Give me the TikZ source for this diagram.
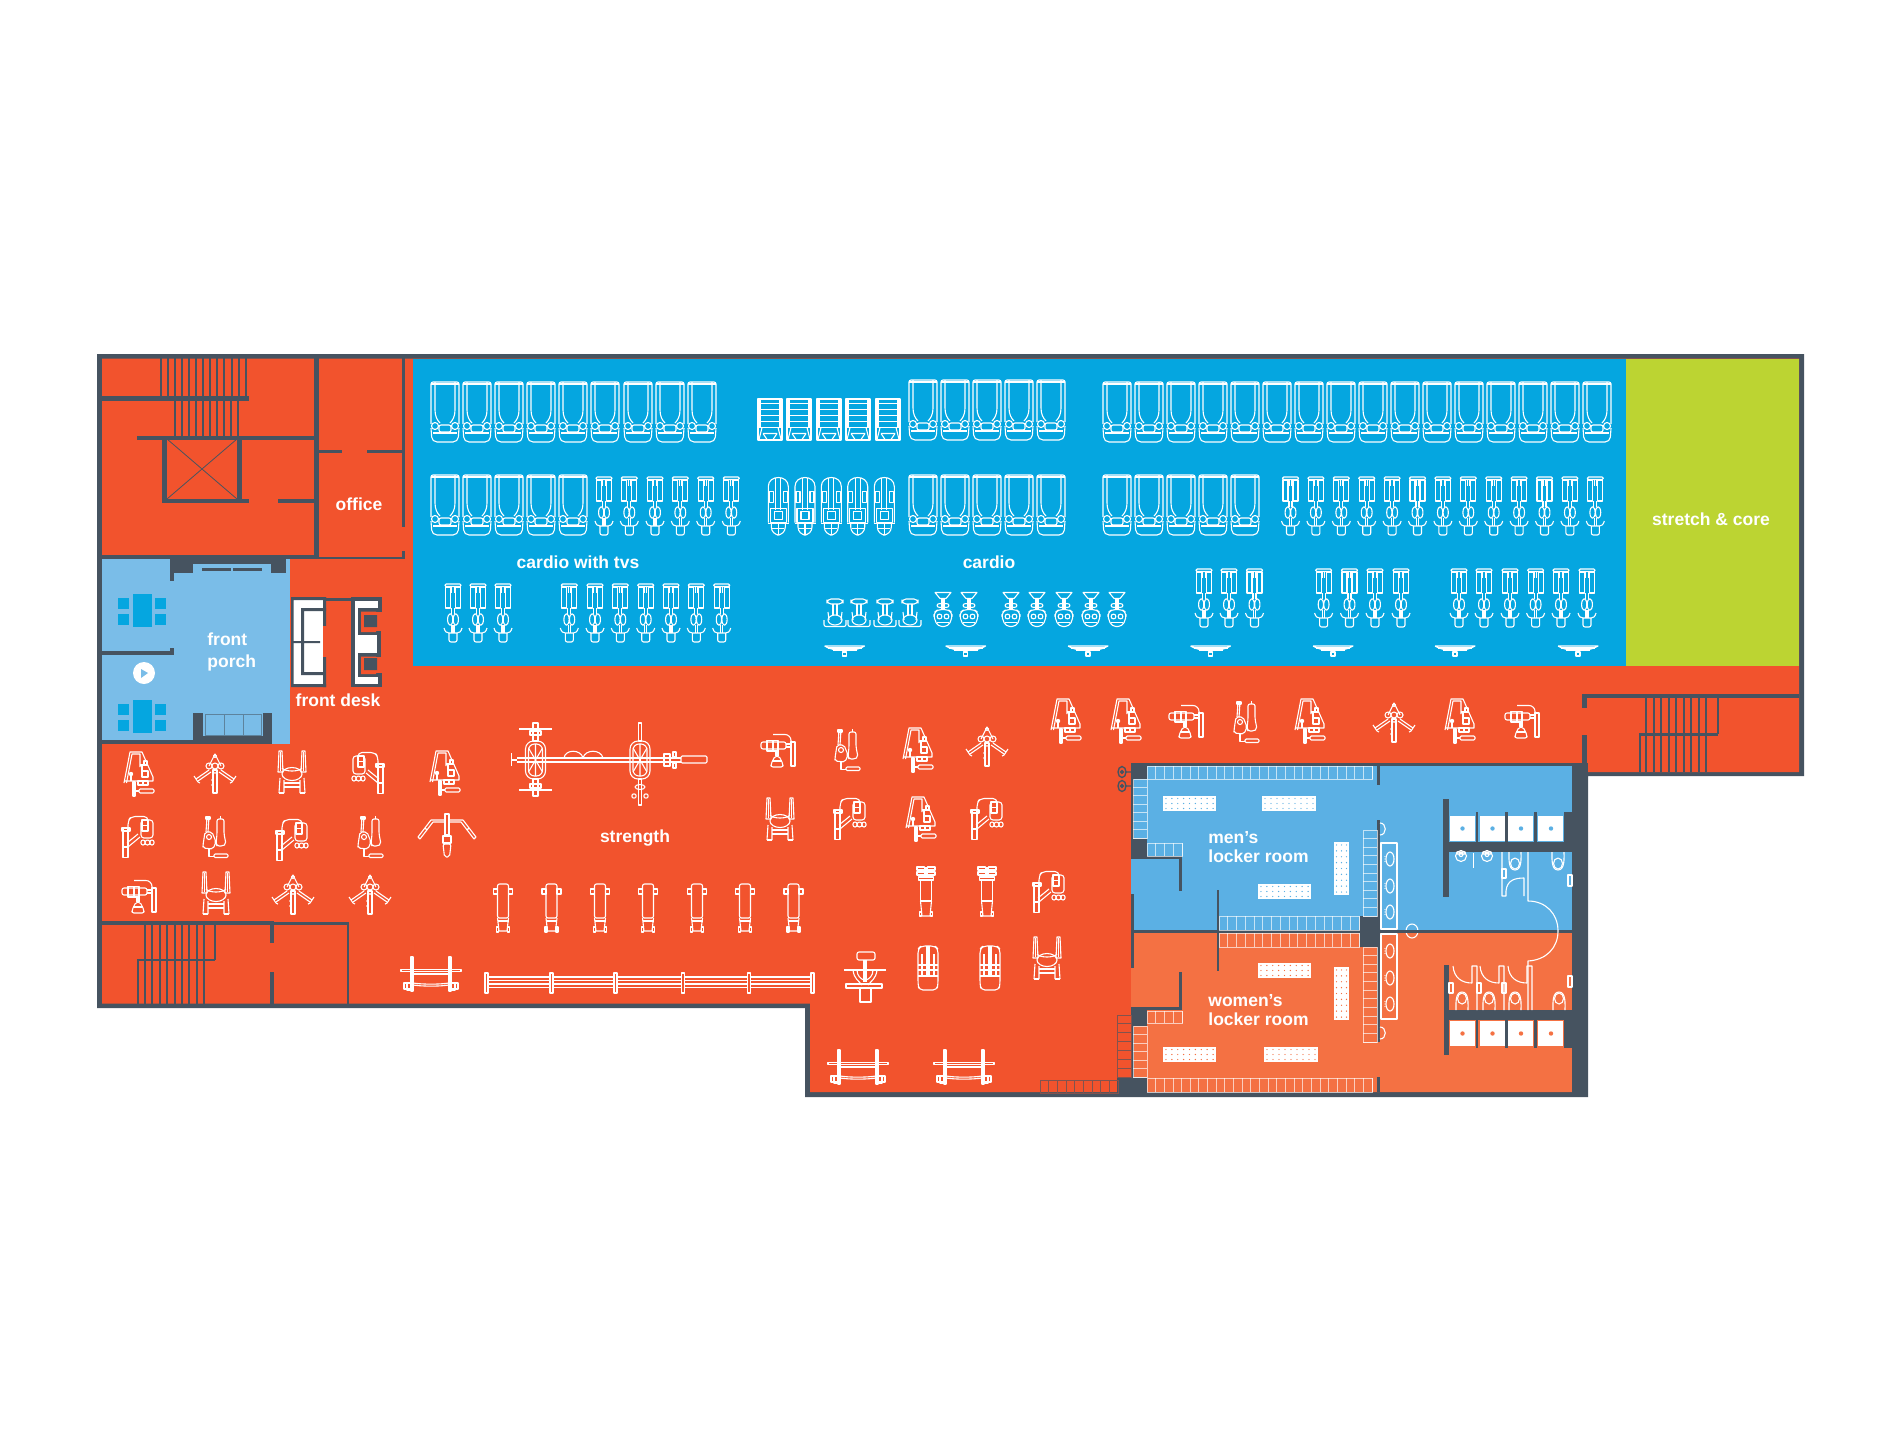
\documentclass[tikz,border=0pt]{standalone}
\usepackage{fontspec}
\setmainfont{Liberation Sans}
\usetikzlibrary{positioning}
\definecolor{gymred}{HTML}{F2532D}
\definecolor{cardioblue}{HTML}{05A6E0}
\definecolor{stretchgreen}{HTML}{BCD432}
\definecolor{wallgrey}{HTML}{465360}
\definecolor{porchblue}{HTML}{7ABDE8}
\definecolor{menblue}{HTML}{5BB0E4}
\definecolor{womenred}{HTML}{F47143}
\newcommand{\hlockers}[6][lockline]{%
  \draw[#1] (#2,#3) rectangle (#4,#5);
  \foreach \i in {1,...,#6}
    \draw[#1] ({#2+(#4-#2)*\i/#6},#3) -- ({#2+(#4-#2)*\i/#6},#5);
}
\newcommand{\vlockers}[6][lockline]{%
  \draw[#1] (#2,#3) rectangle (#4,#5);
  \foreach \i in {1,...,#6}
    \draw[#1] (#2,{#3+(#5-#3)*\i/#6}) -- (#4,{#3+(#5-#3)*\i/#6});
}
\newcommand{\dotbench}[7]{%
  \fill[white] (#1,#2) rectangle (#3,#4);
  \foreach \i in {1,...,#6}
    \foreach \j in {1,...,#7}
      \fill[#5] ({#1+(#3-#1)*(\i-.5)/#6},{#2+(#4-#2)*(\j-.5)/#7}) circle (.7);
}
\tikzset{
  gear/.style={draw=white,line width=.55pt,line join=round},
  tread/.style={draw=wallgrey,line width=1pt},
  lockline/.style={draw=white,line width=.45pt,draw opacity=.65},
  outline/.style={draw=wallgrey!65!gymred,line width=.45pt},
  roomlabel/.style={text=white,inner sep=0pt,font=\bfseries\fontsize{8.75}{11}\selectfont},
  lockerlabel/.style={roomlabel,align=left,font=\bfseries\fontsize{8.75}{9.5}\selectfont},
  treadmill/.pic={
    \draw[gear,rounded corners=1] (-14,12) -- (-14,-30) -- (14,-30) -- (14,12);
    \draw[gear] (-14,-28) -- (14,-28);
    \draw[gear] (-10,-30) -- (-10,-2) .. controls (-10,4) and (-8,8) .. (-5,11);
    \draw[gear] (10,-30) -- (10,-2) .. controls (10,4) and (8,8) .. (5,11);
    \draw[gear,rounded corners=2.5] (-14,16) -- (-13,30) -- (13,30) -- (14,16);
    \draw[gear] (-10,14) circle (3.5) (10,14) circle (3.5);
    \draw[gear,rounded corners=1] (-6,13) rectangle (6,20);
    \draw[gear] (-12,21) -- (12,21);
  },
  stairclimb/.pic={
    \draw[gear] (-12,-20.5) rectangle (12,20.5);
    \draw[gear] (-10,-20.5) -- (-10,8) (10,-20.5) -- (10,8);
    \foreach \y in {-16,-10,-4,2,8} \draw[gear] (-12,\y) -- (12,\y);
    \draw[gear] (-8,8) -- (-11,20) (8,8) -- (11,20) (-7,14) -- (7,14);
    \draw[gear] (-7,14) -- (-3,20) (7,14) -- (3,20);
  },
  bike/.pic={
    \draw[gear,rounded corners=.6] (-8,-29) rectangle (8,-26.5);
    \draw[gear] (-7.5,-26) rectangle (-2.5,-5) (2.5,-26) rectangle (7.5,-5);
    \draw[gear] (-1.2,-26.5) -- (-1.2,-20) (1.2,-26.5) -- (1.2,-20);
    \draw[gear] (-1.5,-5) -- (-1.5,1) (1.5,-5) -- (1.5,1) (-1,12) -- (-1,20) (1,12) -- (1,20);
    \draw[gear] (-2.8,6.5) ellipse [x radius=2.6,y radius=5.8] (2.8,6.5) ellipse [x radius=2.6,y radius=5.8];
    \draw[gear] (-9,15) .. controls (-8,19) and (-6,20) .. (-4,20) -- (4,20) .. controls (6,20) and (8,19) .. (9,15);
    \draw[gear,rounded corners=1] (-4,20) -- (-4,29) -- (4,29) -- (4,20);
  },
  arctrainer/.pic={
    \draw[gear] (-10,17) -- (-10,-19) .. controls (-10,-31) and (10,-31) .. (10,-19) -- (10,17);
    \draw[gear] (-2.5,-28) -- (-2.5,4) (2.5,-28) -- (2.5,4);
    \draw[gear] (-9,-14) rectangle (-5,-3) (5,-14) rectangle (9,-3);
    \draw[gear] (-8,3) rectangle (8,17) (-4,6) rectangle (4,14);
    \draw[gear] (-10.5,18) -- (10.5,18);
    \draw[gear,rounded corners=4] (-7,18) -- (-7,29.5) -- (7,29.5) -- (7,18);
    \draw[gear] (0,18) -- (0,29) (-6,23) -- (6,23);
  },
  recumbent/.pic={
    \draw[gear,rounded corners=2] (-8,-14) rectangle (8,-9);
    \draw[gear] (-2,-9) -- (-2,2) (2,-9) -- (2,2);
    \draw[gear] (0,7) ellipse [x radius=7,y radius=5];
    \draw[gear] (-7,-1) -- (-6,7) (7,-1) -- (6,7);
    \draw[gear,rounded corners=1] (-11,7) -- (-11,13.5) -- (11,13.5) -- (11,7);
  },
  seatedbike/.pic={
    \draw[gear] (-8,-17) -- (8,-17) -- (3,-11) -- (-3,-11) -- cycle;
    \draw[gear] (-1,-11) -- (-1,0) (1,-11) -- (1,0);
    \draw[gear] (-3,-4) ellipse [x radius=3,y radius=2] (3,-4) ellipse [x radius=3,y radius=2];
    \draw[gear,rounded corners=2] (-5,0) -- (-9,3) -- (-9,9) -- (-5,17) -- (5,17) -- (9,9) -- (9,3) -- (5,0) -- cycle;
    \draw[gear] (-3.5,7) circle (2.4) (3.5,7) circle (2.4);
    \draw[gear] (-6,13) -- (6,13);
  },
  fanunit/.pic={
    \draw[gear] (-20,-5) -- (20,-5) .. controls (12,1) and (-12,1) .. (-20,-5);
    \draw[gear] (-17,-3) -- (17,-3) (-12,-1) -- (12,-1);
    \draw[gear] (-2,1) rectangle (2,5);
  },
  platestack/.pic={
    \draw[gear] (-15,9) -- (-9,-22) -- (3,-22) -- (14,3) -- (14,7) -- (-15,7);
    \draw[gear] (-12.5,9) -- (-7,-20) -- (1,-20) -- (1,-7);
    \draw[gear] (1,-9) -- (9,-9) (3,-9) -- (3,3) (3,-3) rectangle (9,3);
    \draw[gear] (5,-13) rectangle (8,-9);
    \fill[white] (-8,0) circle (2.2);
    \draw[gear] (-8,0) -- (-8,7);
    \draw[gear] (-1,7) rectangle (9,11) (4,7) -- (4,11);
    \draw[gear] (-6,8) rectangle (-4,22);
    \draw[gear] (-4,17) -- (0,17);
    \draw[gear,rounded corners=.6] (0,15) rectangle (15,19);
  },
  pulldown/.pic={
    \draw[gear] (-6,-7) -- (0,-19) -- (6,-7);
    \draw[gear] (0,-17) circle (1.6);
    \draw[gear] (-6,-7) circle (3) (6,-7) circle (3) (0,-7) circle (3);
    \draw[gear] (-4,-1) -- (-17,8) (-6,-3) -- (-19,6) (4,-1) -- (17,8) (6,-3) -- (19,6);
    \draw[gear] (-21,3) -- (-17,9) -- (-15,10) (21,3) -- (17,9) -- (15,10);
    \draw[gear] (-2,-3) rectangle (2,20);
    \draw[gear] (-2,-2) .. controls (-1,1) and (1,1) .. (2,-2);
    \fill[white] (-3,7) circle (.8) (-3,12) circle (.8);
  },
  hipchair/.pic={
    \draw[gear] (-13,-21) -- (-14,0) -- (-9,0) -- (-10,-21) -- cycle;
    \draw[gear] (13,-21) -- (14,0) -- (9,0) -- (10,-21) -- cycle;
    \draw[gear] (-11.5,-20) -- (-11.5,-1) (11.5,-20) -- (11.5,-1);
    \draw[gear] (0,2) ellipse [x radius=10,y radius=6.5];
    \draw[gear] (-10,-4) .. controls (-7,0) and (7,0) .. (10,-4);
    \draw[gear] (-13,21) -- (-12,6) (-8,21) -- (-8,8) (13,21) -- (12,6) (8,21) -- (8,8);
    \draw[gear] (-13,21) -- (-8,21) (13,21) -- (8,21);
    \draw[gear] (-8,11) -- (8,11) (-8,15) -- (8,15);
  },
  legpress/.pic={
    \draw[gear,rounded corners=2] (-10,-16) -- (-10,-20.5) -- (7,-20.5) -- (10,-16) -- (10,-9);
    \draw[gear,rounded corners=1.5] (-15,-17) rectangle (-3,1);
    \draw[gear] (-10,-17) rectangle (-4,-6);
    \draw[gear] (-10,-11.5) -- (-4,-11.5);
    \draw[gear] (10,-9) rectangle (15,20.5) (10,10) -- (15,10) (8,-9) -- (16,-9) -- (16,-6) -- (8,-6) -- cycle;
    \draw[gear] (0,-3) -- (11,6) (-2,0) -- (10,10);
    \draw[gear,rounded corners=1] (-16,3) rectangle (-12,8) (-7,3) rectangle (-3,8);
    \draw[gear] (-9.5,5.5) circle (2.5);
  },
  rowstack/.pic={
    \draw[gear] (-8,-20) -- (-9,-5) (-6,-20) -- (-7,-5);
    \draw[gear] (-9,-20) rectangle (-5,-18);
    \draw[gear,rounded corners=1] (2,-18) -- (9,-18) -- (9,-3) -- (11,7) -- (8,9) -- (2,9) -- (1,7) -- (2,-3) -- cycle;
    \draw[gear] (5.5,-21) -- (5.5,-18);
    \draw[gear,rounded corners=1] (-10,-5) -- (-3,-5) -- (1,5) -- (-2,12) -- (-12,11) -- (-12,8) -- cycle;
    \draw[gear] (-6,0) circle (2.5);
    \draw[gear] (-6,12) -- (-6,19.5) -- (-1,19.5);
    \draw[gear,rounded corners=.6] (-1,17) rectangle (13,20.5);
  },
  cablebag/.pic={
    \draw[gear,rounded corners=3] (-5,-15.5) -- (13,-15.5) -- (13,-8);
    \draw[gear] (13,-8) rectangle (17,16);
    \draw[gear,rounded corners=1] (-17,-8) rectangle (8,-1);
    \draw[gear] (-11,-9.5) rectangle (0,1);
    \draw[gear] (-5,-9.5) -- (-5,1);
    \draw[gear] (8,-6) -- (13,-6) (8,-3) -- (13,-3);
    \draw[gear] (-2,1) -- (-2,6) (0,1) -- (0,6);
    \draw[gear,rounded corners=1] (-3,6) -- (1,6) -- (5,14) -- (5,17) -- (-7,17) -- (-7,14) -- cycle;
    \draw[gear] (-6,11) -- (4,11);
  },
  widepull/.pic={
    \draw[gear] (-2,-22) rectangle (2,-1);
    \draw[gear] (-29,1) -- (-16,-16) -- (-2,-16) (-27,3) -- (-14,-14) -- (-2,-14);
    \draw[gear] (29,1) -- (16,-16) -- (2,-16) (27,3) -- (14,-14) -- (2,-14);
    \draw[gear] (-29,1) -- (-27,3) (29,1) -- (27,3) (-22,-8) -- (-20,-6) (22,-8) -- (20,-6);
    \draw[gear] (-4,0) rectangle (4,7);
    \draw[gear,rounded corners=1] (-4,8) -- (4,8) -- (2.5,21) -- (-2.5,21) -- cycle;
  },
  flatbench/.pic={
    \draw[gear,rounded corners=1] (-5.5,10) -- (-5.5,-24) -- (5.5,-24) -- (5.5,10) -- cycle;
    \draw[gear] (-9.5,-19) rectangle (-5.5,-14) (5.5,-19) rectangle (9.5,-14);
    \draw[gear] (-5.5,10) -- (-4,23) -- (4,23) -- (5.5,10);
    \draw[gear] (-5.5,13) -- (5.5,13);
    \draw[gear] (-6.5,19) rectangle (-4.5,24) (4.5,19) rectangle (6.5,24);
  },
  barrack/.pic={
    \draw[gear] (-20,-17) rectangle (-18,17) (18,-17) rectangle (20,17);
    \draw[gear] (-30,-4.5) rectangle (30,-2.5);
    \draw[gear] (-20,0) -- (20,0);
    \draw[gear] (-18,9) .. controls (-8,10.5) and (8,10.5) .. (18,9) (-18,11) .. controls (-8,12.5) and (8,12.5) .. (18,11);
    \draw[gear] (-27,9) rectangle (-18,15) (18,9) rectangle (27,15);
    \draw[gear] (-24,9) -- (-24,16) -- (-20,16) (24,9) -- (24,16) -- (20,16);
  },
  swivelseat/.pic={
    \draw[gear,rounded corners=1] (-8,-25) rectangle (10,-17);
    \draw[gear] (-1,-17) -- (-1,5) (1,-17) -- (1,5);
    \draw[gear] (-21,-7) -- (21,-7);
    \draw[gear] (-12,-7) .. controls (-11,2) and (-6,4) .. (-3,8) (12,-7) .. controls (11,2) and (6,4) .. (3,8);
    \draw[gear] (-8,-7) .. controls (-8,-1) and (-4,2) .. (-1,3) (8,-7) .. controls (8,-1) and (4,2) .. (1,3);
    \draw[gear] (-19,7) rectangle (17,11);
    \draw[gear] (-5,11) rectangle (6,25);
  },
  ladderbench/.pic={
    \draw[gear,rounded corners=2] (-9,22) -- (-10,16) -- (-10,-19) -- (-7,-22) -- (7,-22) -- (10,-19) -- (10,16) -- (9,22) -- cycle;
    \draw[gear] (-1,-22) -- (-1,8) (1,-22) -- (1,8) (-6,-14) -- (-6,8) (6,-14) -- (6,8);
    \foreach \y in {-3,2,8} \draw[gear] (-10,\y) -- (10,\y);
  },
  padbench/.pic={
    \draw[gear] (-9,-25) rectangle (-1.5,-22) (1.5,-25) rectangle (9,-22);
    \draw[gear] (-9,-20) rectangle (-1.5,-17) (1.5,-20) rectangle (9,-17);
    \draw[gear] (-1,-25) -- (-1,-15) (1,-25) -- (1,-15);
    \draw[gear] (-7.5,-15) rectangle (7.5,-12);
    \draw[gear] (-5.5,-12) -- (-5.5,9) -- (5.5,9) -- (5.5,-12);
    \draw[gear] (-5.5,9) -- (-4,24) -- (4,24) -- (5.5,9);
    \draw[gear] (-6.5,20) rectangle (-4.5,24) (4.5,20) rectangle (6.5,24);
  },
  toiletbowl/.pic={
    \draw[gear] (-6,0) .. controls (-6,6) and (-7,18) .. (0,18) .. controls (7,18) and (6,6) .. (6,0);
    \draw[gear] (0,11.5) ellipse [x radius=4.5,y radius=5.5];
  },
  handbasin/.pic={
    \draw[gear] (0,4) circle (5.5);
    \draw[gear] (0,2.5) circle (2) (-4,0) rectangle (4,2);
  },
  sinkbowl/.pic={
    \draw[gear] (0,0) ellipse [x radius=4,y radius=7];
    \fill[white] (-5,-2.5) circle (.7) (-5,0) circle (.7) (-5,2.5) circle (.7);
  }
}
\begin{document}
\begin{tikzpicture}[x=.5pt,y=-.5pt]
  \useasboundingbox (0,0) rectangle (1900,1451);
  % shell and floors
  \fill[wallgrey] (97,354) -- (1804,354) -- (1804,776) -- (1588,776) -- (1588,1097)
    -- (805,1097) -- (805,1008) -- (97,1008) -- cycle;
  \fill[gymred] (102,358.5) -- (1799,358.5) -- (1799,772) -- (1585,772) -- (1585,1092)
    -- (810,1092) -- (810,1003.5) -- (102,1003.5) -- cycle;
  \fill[cardioblue] (413,358.5) rectangle (1626,666);
  \fill[stretchgreen] (1626,358.5) rectangle (1799,666);
  \fill[porchblue] (102,559) rectangle (290,744);
  \fill[menblue] (1131,766) rectangle (1572,930);
  \fill[womenred] (1131,933) rectangle (1572,1092);
  \draw[gear] (1412,931) ellipse [x radius=6,y radius=7];

  % walls
  \foreach \a/\b/\c/\d in {
    314/358/319/559, 102/555/314/559, 319/556.5/404/559, 402/358/404.5/527, 402/551/404.5/559,
    319/450/342/453, 367/450/402/453,
    102/396/249/401, 137/436/314/440, 162/436/167/503, 237/436/242/503, 162/499/249/503, 278/499/314/503,
    170/559/193/573, 170/559/174/581, 271/559/286/573, 193/559/271/564, 202/568/231/571, 233/568/262/571,
    102/651/174/655, 170/648/174/655, 102/740/272/744, 193/713/203/744, 263/713/272/744, 203/736/263/744,
    102/921/274/925, 274/922/349/925, 347/922/349/1004, 270/923/274/943, 270/972/274/1005, 137/959/215/961,
    1582/694/1799/698, 1582/694/1587/708, 1582/735/1587/776, 1639/733/1718/736,
    1131/763/1583/766, 1131/763/1134/858, 1131/894/1134/968, 1131/1008/1134/1097, 1131/930/1572/933,
    1572/763/1588/1097, 1131/763/1147/779, 1131/838/1147/858, 1131/856/1182/859, 1179/856/1182/891,
    1217/890/1219/971, 1359/916/1379/947, 1377/765/1380/785, 1377/820/1380/1042, 1377/1077/1380/1092,
    1443/799/1449/897, 1444/965/1449/1055, 1449/842/1572/852, 1449/1010/1572/1020,
    1476/812/1478/842, 1505/812/1508/842, 1534/812/1537/842, 1564/812/1572/852,
    1476/1020/1478/1048, 1505/1020/1508/1048, 1534/1020/1537/1048, 1564/1010/1572/1048,
    1131/1008/1147/1026, 1131/1007/1182/1010, 1179/972/1182/1010, 1117/1077/1147/1097
  }
    \fill[wallgrey] (\a,\b) rectangle (\c,\d);
  \draw[wallgrey,line width=.4pt] (167,439) -- (237,499) (237,439) -- (167,499);

  % stair treads
  \foreach \n in {0,...,12} \draw[tread] ({160.5+7.1*\n},358) -- ++(0,38);
  \foreach \n in {0,...,9} \draw[tread] ({174.5+7.1*\n},401) -- ++(0,35);
  \foreach \n in {0,...,8} \draw[tread] ({145+7.4*\n},925) -- ++(0,79);
  \draw[tread] (215,925) -- (215,960) (137.5,960) -- (137.5,1004);
  \foreach \n in {0,...,8} \draw[tread] ({1646+7.5*\n},698) -- ++(0,74);
  \draw[tread] (1718,698) -- (1718,734) (1640,734) -- (1640,772);

  % front porch
  \draw[wallgrey!55!porchblue,line width=.5pt] (205,714) rectangle (261,735) (224,714) -- (224,735) (243,714) -- (243,735);
  \foreach \y in {594,700}{
    \fill[cardioblue] (133,\y) rectangle (152,\y+33);
    \foreach \x in {118,155}{
      \fill[cardioblue] (\x,\y+4) rectangle (\x+11,\y+15);
      \fill[cardioblue] (\x,\y+20) rectangle (\x+11,\y+31);}}
  \fill[white] (144,673) circle (11);
  \fill[porchblue] (141,669) -- (148,673) -- (141,678) -- cycle;

  % front desk
  \fill[white] (291,597) rectangle (326,687);
  \fill[wallgrey] (291,597) rectangle (326,600) (291,597) rectangle (293.5,687) (291,684) rectangle (326,687);
  \fill[wallgrey] (323,597) rectangle (326,626) (323,657) rectangle (326,687);
  \fill[wallgrey] (301,608) rectangle (326,611) (301,608) rectangle (304,675) (301,672) rectangle (323,675) (293,641) rectangle (320,643);
  \fill[gymred] (323,626) rectangle (326,657);
  \fill[wallgrey] (326,598) rectangle (352,601);
  \draw[wallgrey,fill=white,line width=1.6pt] (353,599) -- (380,599) -- (380,610) -- (360,610) -- (360,633) -- (379,633)
    -- (379,655) -- (360,655) -- (360,675) -- (380,675) -- (380,685.5) -- (353,685.5) -- cycle;
  \fill[gymred] (361,611.5) rectangle (376,632) (361,656.5) rectangle (376,674);
  \fill[wallgrey] (364,615) rectangle (377,627) (364,658) rectangle (377,670);

  % lockers, benches and sinks
  \hlockers{1147}{766}{1372}{779}{26}
  \vlockers{1133}{779}{1147}{838}{7}
  \hlockers{1147}{843}{1182}{856}{4}
  \hlockers{1219}{916}{1359}{930}{16}
  \vlockers{1363}{830}{1377}{916}{10}
  \hlockers{1219}{933}{1359}{947}{16}
  \vlockers{1363}{947}{1377}{1042}{11}
  \hlockers{1147}{1011}{1182}{1023}{4}
  \vlockers{1133}{1026}{1147}{1077}{6}
  \hlockers{1147}{1078}{1372}{1092}{26}
  \vlockers[outline]{1117}{1015}{1131}{1077}{7}
  \hlockers[outline]{1040}{1080}{1118}{1093}{9}
  \dotbench{1163}{796}{1216}{811}{menblue}{9}{3}
  \dotbench{1262}{796}{1316}{811}{menblue}{9}{3}
  \dotbench{1258}{884}{1311}{899}{menblue}{9}{3}
  \dotbench{1334}{842}{1349}{895}{menblue}{3}{9}
  \dotbench{1258}{963}{1311}{978}{womenred}{9}{3}
  \dotbench{1334}{967}{1349}{1020}{womenred}{3}{9}
  \dotbench{1163}{1047}{1216}{1062}{womenred}{9}{3}
  \dotbench{1264}{1047}{1318}{1062}{womenred}{9}{3}
  \foreach \x in {1462.5,1492.5,1521,1551}{
    \fill[white] (\x-13,816) rectangle (\x+12,841);
    \fill[menblue] (\x,828.5) circle (2.2);
    \fill[white] (\x-13,1021) rectangle (\x+12,1046);
    \fill[womenred] (\x,1033.5) circle (2.2);}
  \draw[gear] (1381,843) rectangle (1397,929) (1381,934) rectangle (1397,1019);
  \foreach \y in {859,886,912,951,978,1004} \pic at (1390,\y) {sinkbowl};
  \draw[gear] (1380,823) .. controls (1387,823) and (1387,835) .. (1380,835);
  \draw[gear] (1380,1027) .. controls (1387,1027) and (1387,1039) .. (1380,1039);
  \foreach \y in {772,786}{
    \draw[wallgrey,line width=.7pt] (1122,\y) ellipse [x radius=4,y radius=5.5] (1122,\y) circle (1.3) (1126,\y) -- (1131,\y);}

  % washrooms
  \foreach \x in {1461,1487} \pic at (\x,852) {handbasin};
  \foreach \x in {1515,1558} \pic at (\x,852) {toiletbowl};
  \foreach \x in {1462,1489,1515,1559} \pic[yscale=-1] at (\x,1010) {toiletbowl};
  \draw[gear] (1473.5,853) -- (1473.5,868);
  \draw[gear] (1502,852) -- (1502,896) -- (1506,896) -- (1506,891) .. controls (1507,880) and (1515,878) .. (1524,878) -- (1524,896);
  \draw[gear] (1502,869) rectangle (1506,878);
  \draw[gear] (1528,852) -- (1528,901) .. controls (1546,901) and (1558,914) .. (1558,931)
    .. controls (1558,948) and (1546,960) .. (1528,961) -- (1528,1010);
  \draw[gear] (1568,875) rectangle (1572,886) (1568,976) rectangle (1572,987);
  \foreach \x in {1453,1480,1508}{
    \draw[gear] (\x,966) .. controls (\x+1,978) and (\x+9,983) .. (\x+19,983) -- (\x+19,966) -- (\x+24,966) -- (\x+24,1010);}
  \draw[gear] (1449,983) rectangle (1453,993) (1477,983) rectangle (1481,993) (1502,983) rectangle (1506,993);

  % cardio floor
  \foreach \x in {445,477,509,541,573,605,638,670,702} \pic at (\x,412) {treadmill};
  \foreach \x in {445,477,509,541,573} \pic at (\x,505) {treadmill};
  \foreach \x in {923,955,987,1019,1051} \pic at (\x,410) {treadmill};
  \foreach \x in {923,955,987,1019,1051} \pic at (\x,505) {treadmill};
  \foreach \n in {0,...,15} \pic at (1117+32*\n,412) {treadmill};
  \foreach \n in {0,...,4} \pic at (1117+32*\n,505) {treadmill};
  \foreach \x in {770,799,829,858,888} \pic at (\x,419.5) {stairclimb};
  \foreach \x in {604,629.3,655,680.3,705.7,731.3} \pic at (\x,506) {bike};
  \foreach \x in {453,478,503,569.3,595,620.3,645.7,671,696.3,721.7} \pic at (\x,613) {bike};
  \foreach \n in {0,...,12} \pic at (1290.5+25.4*\n,506) {bike};
  \foreach \x in {1204,1229,1254.5,1323.6,1349.5,1375,1401,1459,1484,1510,1535.6,1561,1587} \pic at (\x,598) {bike};
  \foreach \x in {778.3,805,831.3,857.7,884.3} \pic at (\x,505.5) {arctrainer};
  \foreach \x in {835,859,885,910} \pic at (\x,613) {recumbent};
  \foreach \x in {943,969,1011,1037,1064,1091,1117} \pic at (\x,609.5) {seatedbike};
  \foreach \x in {844.6,965.7,1088,1210.5,1333,1455,1578} \pic at (\x,651) {fanunit};

  % strength floor
  \foreach \x/\y in {139/774,445/773,918/750,921/819,1066/721,1126/721,1310/721,1460/721} \pic at (\x,\y) {platestack};
  \foreach \x/\y in {215/773,293/894,370/894,987/746,1394/722} \pic at (\x,\y) {pulldown};
  \foreach \x/\y in {292/772,216/893,780/819,1047/958} \pic at (\x,\y) {hipchair};
  \foreach \x/\y in {368/773} \pic at (\x,\y) {legpress};
  \foreach \x/\y in {138/837,292/840,850/819,987/819,1049/892} \pic[xscale=-1] at (\x,\y) {legpress};
  \foreach \x/\y in {215/837,370/837,847/750,1246/722} \pic at (\x,\y) {rowstack};
  \foreach \x/\y in {139/896,778/750,1186/721,1522/721} \pic at (\x,\y) {cablebag};
  \pic at (447,836) {widepull};
  \foreach \x in {503,551.5,600,648,697,745,793.5} \pic at (\x,908) {flatbench};
  \foreach \x/\y in {431/974,858/1067,964/1067} \pic at (\x,\y) {barrack};
  \pic at (865,977) {swivelseat};
  \foreach \x in {928,990} \pic at (\x,968) {ladderbench};
  \foreach \x in {926,987} \pic at (\x,892) {padbench};

  % long rack
  \foreach \y in {977,980.5,984,987.5} \draw[gear] (486,\y) -- (812,\y);
  \foreach \x in {486.5,551.5,615.5,683,749,812.5} \draw[gear,fill=gymred] (\x-1.5,973) rectangle (\x+1.5,993);

  % double hub rig
  \draw[gear] (517,758) -- (681,758) (517,762) -- (681,762);
  \draw[gear] (511.5,753) -- (511.5,766) (511.5,760) -- (517,760);
  \foreach \x in {535.5,640}{
    \draw[gear,rounded corners=4] (\x-10,741) rectangle (\x+10,779);
    \draw[gear,rounded corners=3] (\x-7,744) rectangle (\x+7,776);
    \draw[gear] (\x-7,748) -- (\x+7,772) (\x+7,748) -- (\x-7,772) (\x,744) -- (\x,776);}
  \draw[gear] (519,729) -- (552,729) (519,790) -- (552,790);
  \draw[gear] (533,723) rectangle (538,741) (533,779) rectangle (538,796);
  \draw[gear] (530,731) rectangle (541,735) (530,784) rectangle (541,788);
  \draw[gear] (564,758) .. controls (565,749) and (581,749) .. (583,758) .. controls (585,749) and (601,749) .. (603,758);
  \draw[gear] (638.5,723) rectangle (641.5,741) (638.5,779) rectangle (641.5,805);
  \draw[gear] (640,787) ellipse [x radius=5,y radius=2.5] (634,796) circle (2.2) (646,796) circle (2.2);
  \draw[gear] (664,754) rectangle (670,766) (673,752) rectangle (676,757) (673,763) rectangle (676,768);
  \draw[gear,rounded corners=.6] (681,756) rectangle (707,763);

  % labels
  \node[roomlabel] (officelabel) at (359,504) {office};
  \node[roomlabel,align=left,anchor=west] (porchlabel) at (207,652) {front\\porch};
  \node[roomlabel] (desklabel) at (338,700) {front desk};
  \node[roomlabel] (tvlabel) at (578,562) {cardio with tvs};
  \node[roomlabel] (cardiolabel) at (989,562) {cardio};
  \node[roomlabel] (stretchlabel) at (1711,519) {stretch \& core};
  \node[roomlabel] (strengthlabel) at (635,838) {strength};
  \node[lockerlabel,anchor=west] (menlabel) at (1208,847) {men’s\\locker room};
  \node[lockerlabel,anchor=west] (womenlabel) at (1208,1010) {women’s\\locker room};
\end{tikzpicture}
\end{document}
